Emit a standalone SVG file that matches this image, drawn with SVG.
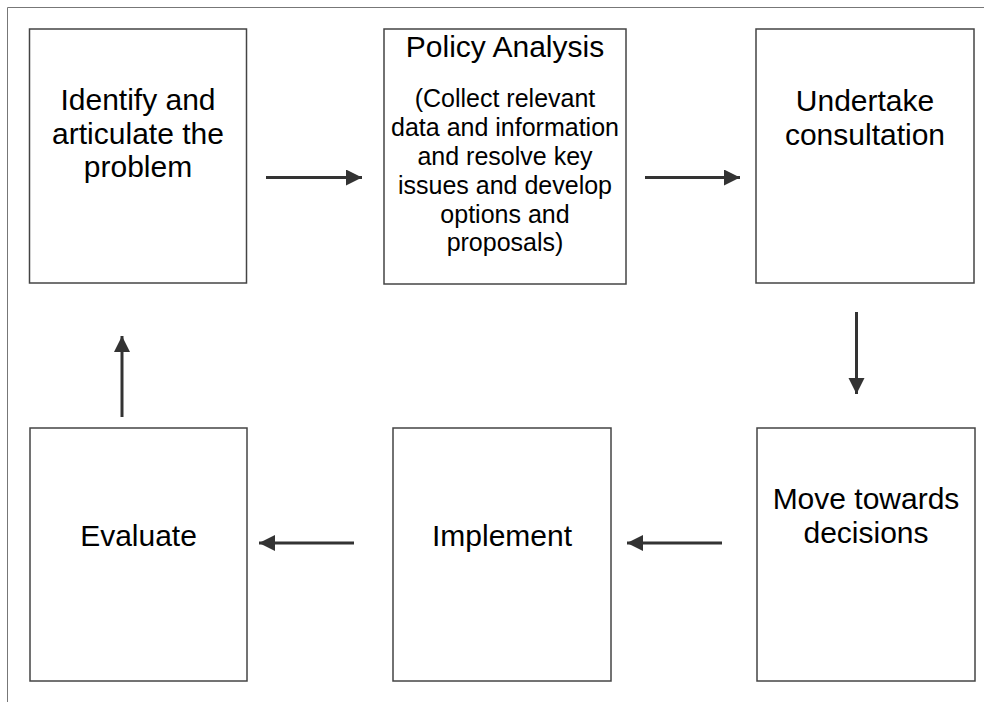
<svg xmlns="http://www.w3.org/2000/svg" width="984" height="702" viewBox="0 0 984 702">
<defs>
<marker id="ah" markerUnits="userSpaceOnUse" markerWidth="17" markerHeight="17" refX="16" refY="8" orient="auto">
<path d="M0,0 L16,8 L0,16 z" fill="#333"/>
</marker>
<style>
.box{fill:#fff;stroke:#444;stroke-width:1.5}
.t{font-family:"Liberation Sans",Arial,sans-serif;font-size:30px;fill:#000;text-anchor:middle}
.s{font-family:"Liberation Sans",Arial,sans-serif;font-size:25px;fill:#000;text-anchor:middle}
.c{stroke:#333;stroke-width:3;fill:none;marker-end:url(#ah)}
.frame{stroke:#777;stroke-width:1;fill:none}
</style>
</defs>
<rect width="984" height="702" fill="#fff"/>
<path class="frame" d="M7.5,702 L7.5,7.5 L984,7.5"/>
<g id="identify">
<rect class="box" x="29.5" y="29" width="217" height="254"/>
<text class="t" x="138" y="110">Identify and</text>
<text class="t" x="138" y="144">articulate the</text>
<text class="t" x="138" y="177">problem</text>
</g>
<g id="policy">
<rect class="box" x="384" y="29" width="242" height="255"/>
<text class="t" x="505" y="57">Policy Analysis</text>
<text class="s" x="505" y="107">(Collect relevant</text>
<text class="s" x="505" y="136">data and information</text>
<text class="s" x="505" y="165">and resolve key</text>
<text class="s" x="505" y="194">issues and develop</text>
<text class="s" x="505" y="223">options and</text>
<text class="s" x="505" y="251">proposals)</text>
</g>
<g id="consult">
<rect class="box" x="756" y="29" width="218" height="254"/>
<text class="t" x="865" y="111">Undertake</text>
<text class="t" x="865" y="145">consultation</text>
</g>
<g id="decisions">
<rect class="box" x="757" y="428" width="218" height="253"/>
<text class="t" x="866" y="509">Move towards</text>
<text class="t" x="866" y="543">decisions</text>
</g>
<g id="implement">
<rect class="box" x="393" y="428" width="218" height="253"/>
<text class="t" x="502" y="546">Implement</text>
</g>
<g id="evaluate">
<rect class="box" x="30" y="428" width="217" height="253"/>
<text class="t" x="138.5" y="546">Evaluate</text>
</g>
<g id="connectors">
<path class="c" d="M266,177.5 L362,177.5"/>
<path class="c" d="M645,177.5 L740,177.5"/>
<path class="c" d="M856.5,312 L856.5,394"/>
<path class="c" d="M722,543 L627,543"/>
<path class="c" d="M354,543 L259,543"/>
<path class="c" d="M122,417 L122,336"/>
</g>
</svg>
